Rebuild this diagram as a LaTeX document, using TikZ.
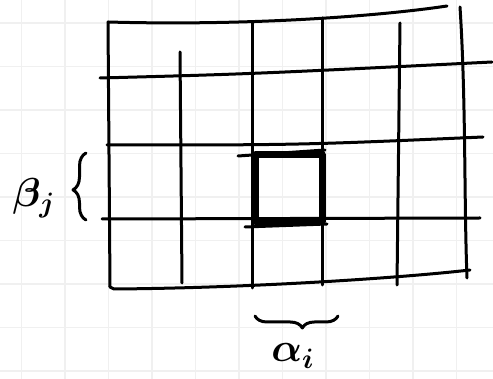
\documentclass[tikz,border=0pt]{standalone}
\usetikzlibrary{decorations.pathreplacing}
\newcommand{\handletter}[1]{\scalebox{1.95}{\huge\boldmath$#1$}}
\begin{document}
\begin{tikzpicture}[x=1pt, y=-1pt,
    paper/.style={draw=black!6, line width=1.5pt},
    pen/.style={draw=black, line width=3pt, line cap=round, line join=round},
    marker/.style={draw=black, line width=7pt, line join=round},
    squiggle/.style={pen, decorate, decoration={brace, amplitude=13pt}},
    letter/.style={inner sep=0pt}
  ]
  \useasboundingbox (0,0) rectangle (493,379);
  \foreach \i in {0,...,11} \draw[paper] ({21.7+43.5*\i},0) -- ({21.7+43.5*\i},379);
  \foreach \i in {0,...,8} \draw[paper] (0,{23.2+43.5*\i}) -- (493,{23.2+43.5*\i});

  \draw[pen] (108,22) .. controls (250,26) and (380,16) .. (447,6);
  \draw[pen] (108,22) -- (110,287);
  \draw[pen] (110,287) -- (114,289) .. controls (250,288) and (400,278) .. (470,270);
  \draw[pen] (460,7) .. controls (466,100) and (464,200) .. (467,278);

  \draw[pen] (180,52) -- (182,283);
  \draw[pen] (252,22) -- (252,288);
  \draw[pen] (322,18) -- (322,285);
  \draw[pen] (400,23) -- (397,285);

  \draw[pen] (100,78) .. controls (250,74) .. (492,62);
  \draw[pen] (107,145) .. controls (300,145) .. (483,137);
  \draw[pen] (102,219) -- (480,218);

  \draw[marker] (255,155) rectangle (322,222);
  \draw[pen] (238,156) -- (325,150);
  \draw[pen] (245,227) -- (327,224);

  \node[letter] (beta) at (34,198) {\handletter{\beta_j}};
  \node[letter] (alpha) at (293,356) {\handletter{\alpha_i}};
  \draw[squiggle, decoration={aspect=0.45}] (86,220) -- (86,153);
  \draw[squiggle, decoration={aspect=0.43, amplitude=12pt}] (338,316) -- (255,316);
\end{tikzpicture}
\end{document}
